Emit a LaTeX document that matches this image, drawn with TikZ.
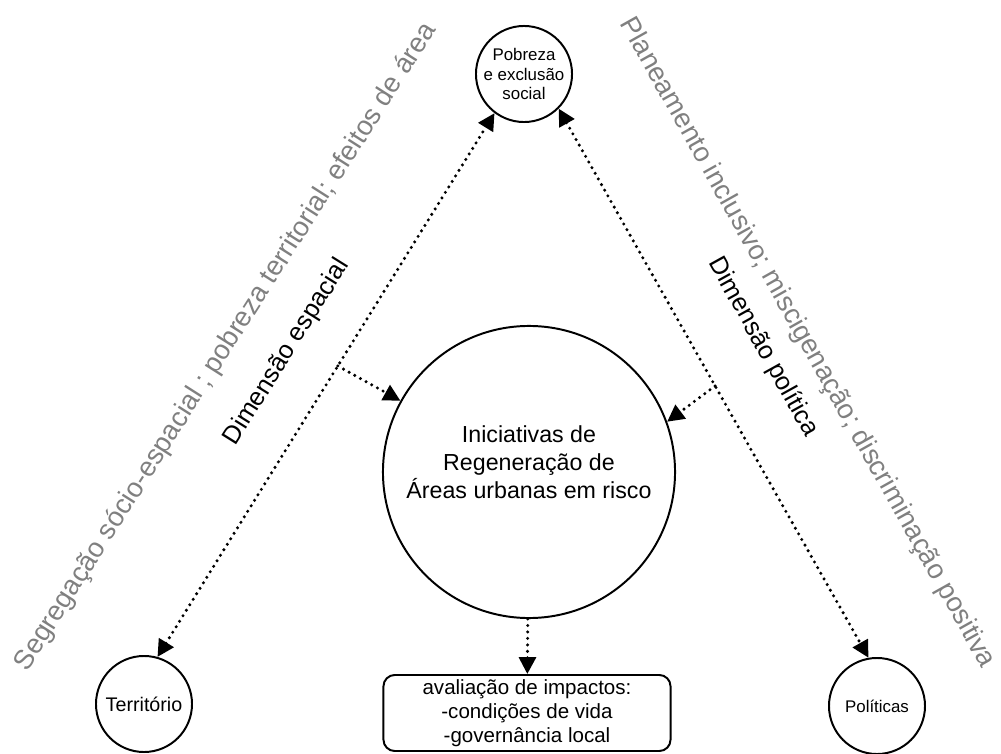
\documentclass[tikz,border=0pt]{standalone}
\usepackage{fontspec}
\setmainfont{Liberation Sans}
\usetikzlibrary{arrows.meta}

\begin{document}
\begin{tikzpicture}[x=0.025cm, y=-0.025cm, >={Triangle[length=12pt,width=12pt]}]
\tikzstyle{every node} = [align=center, inner sep=0pt]
\tikzstyle{circ} = [circle, draw, line width=1.4pt]
\tikzstyle{dots} = [line width=2.4pt, line cap=round, dash pattern=on 0pt off 4.6pt]
\tikzstyle{dim} = [font=\fontsize{18}{22}\selectfont]
\tikzstyle{obs} = [text=black!50, font=\fontsize{19.5}{24}\selectfont]
\useasboundingbox (0,0) rectangle (1001,754);
\node[circ, minimum size=2.25cm, font=\fontsize{12}{14.2}\selectfont] (pob) at (524,74) {Pobreza\\e exclusão\\social};
\node[circ, minimum size=7.3cm, text depth=14pt, font=\fontsize{16.5}{20}\selectfont] (ini) at (529,472) {Iniciativas de\\Regeneração de\\Áreas urbanas em risco};
\node[circ, minimum size=2.4cm, font=\fontsize{14}{16}\selectfont] (ter) at (144,704) {Território};
\node[circ, minimum size=2.4cm, font=\fontsize{12}{14}\selectfont] (pol) at (877,706) {Políticas};
\node[draw, rounded corners=8pt, line width=1.4pt, minimum width=7.175cm, minimum height=1.9cm, font=\fontsize{14.6}{17}\selectfont] (ava) at (527,713) {avaliação de impactos:\\-condições de vida\\-governância local};
\node[dim, rotate=58] (dl) at (287,352) {Dimensão espacial};
\node[dim, rotate=-61] (dr) at (763,347) {Dimensão política};
\node[obs, rotate=57.5] (ol) at (226,347) {Segregação sócio-espacial ; pobreza territorial; efeitos de área};
\node[obs, rotate=-60.7] (or) at (807,343) {Planeamento inclusivo; miscigenação; discriminação positiva};
\draw[dots, <->] (ter.74) -- coordinate[pos=.535] (jl) (pob.233);
\draw[dots, <->] (pob.315) -- coordinate[pos=.505] (jr) (pol.100);
\foreach \from/\to in {jl/ini.151, jr/ini.20, ini/ava}
\draw[dots, ->] (\from) -- (\to);
\end{tikzpicture}
\end{document}
